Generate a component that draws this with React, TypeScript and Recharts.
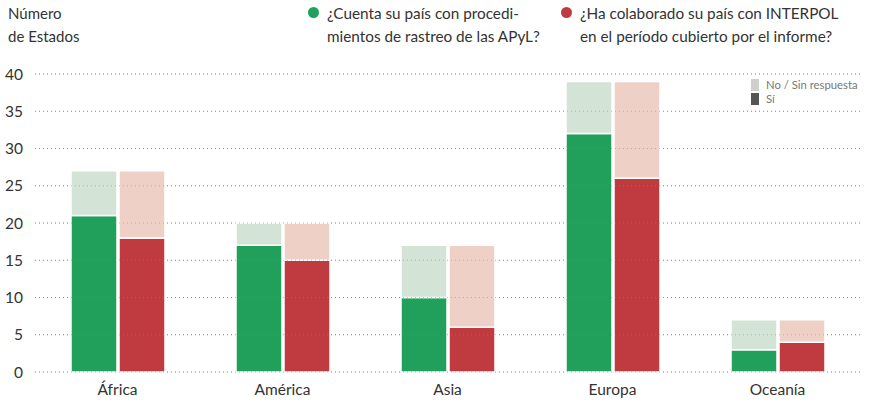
import { BarChart, Bar, XAxis, YAxis, CartesianGrid, ReferenceLine } from "recharts";

const regions = ["África", "América", "Asia", "Europa", "Oceanía"];
const rastreoSi = [21, 17, 10, 32, 3];
const rastreoNo = [6, 3, 7, 7, 4];
const interpolSi = [18, 15, 6, 26, 4];
const interpolNo = [9, 5, 11, 13, 3];
const yTicks = [0, 5, 10, 15, 20, 25, 30, 35, 40];

const GREEN = "#21a05b";
const GREEN_LIGHT = "#d3e4d7";
const RED = "#c03b40";
const RED_LIGHT = "#efd0c7";
const FONT = "Lato, 'Noto Sans', sans-serif";

const data = regions.map((name, i) => ({
  name,
  rastreoSi: rastreoSi[i],
  rastreoNo: rastreoNo[i],
  interpolSi: interpolSi[i],
  interpolNo: interpolNo[i],
}));

function LegendDot({ color }: { color: string }) {
  return (
    <span
      style={{
        display: "inline-block",
        width: 11,
        height: 11,
        borderRadius: "50%",
        background: color,
        marginTop: 5,
        marginRight: 8,
        flexShrink: 0,
      }}
    />
  );
}

export default function App() {
  return (
    <div
      style={{
        position: "absolute",
        left: 0,
        top: 0,
        width: 869,
        height: 404,
        fontFamily: FONT,
        color: "#333",
        background: "#fff",
      }}
    >
      <div style={{ position: "absolute", left: 8, top: 2, fontSize: 15, lineHeight: "23px" }}>
        Número
        <br />
        de Estados
      </div>
      <div style={{ position: "absolute", left: 308, top: 2, display: "flex", fontSize: 15.3, lineHeight: "23px" }}>
        <LegendDot color={GREEN} />
        <div>
          ¿Cuenta su país con procedi-
          <br />
          mientos de rastreo de las APyL?
        </div>
      </div>
      <div style={{ position: "absolute", left: 561, top: 2, display: "flex", fontSize: 15.3, lineHeight: "23px" }}>
        <LegendDot color={RED} />
        <div>
          ¿Ha colaborado su país con INTERPOL
          <br />
          en el período cubierto por el informe?
        </div>
      </div>
      <div style={{ position: "absolute", left: 751, top: 78, fontSize: 11.3, lineHeight: "14px", color: "#777" }}>
        <div style={{ display: "flex", alignItems: "center" }}>
          <span style={{ width: 8, height: 12, background: "#cfcfcf", marginRight: 7 }} />
          No / Sin respuesta
        </div>
        <div style={{ display: "flex", alignItems: "center" }}>
          <span style={{ width: 8, height: 12, background: "#555", marginRight: 7 }} />
          Sí
        </div>
      </div>
      <BarChart
        width={869}
        height={404}
        data={data}
        margin={{ top: 74, right: 9, bottom: 2, left: 0 }}
        barSize={46}
        barGap={2}
        style={{ position: "absolute", left: 0, top: 0 }}
      >
        <XAxis
          dataKey="name"
          axisLine={false}
          tickLine={false}
          height={30}
          tick={{ fill: "#333", fontSize: 15.5, fontFamily: FONT }}
          tickMargin={6}
        />
        <YAxis
          domain={[0, 40]}
          ticks={yTicks}
          width={35}
          axisLine={false}
          tickLine={false}
          tickMargin={6}
          tick={{ fill: "#333", fontSize: 15.5, fontFamily: FONT }}
        />
        <CartesianGrid vertical={false} stroke="#999" strokeDasharray="1 3" />
        <Bar dataKey="rastreoSi" stackId="g" fill={GREEN} stroke="#fff" strokeWidth={1.5} isAnimationActive={false} />
        <Bar dataKey="rastreoNo" stackId="g" fill={GREEN_LIGHT} stroke="#fff" strokeWidth={1.5} isAnimationActive={false} />
        <Bar dataKey="interpolSi" stackId="r" fill={RED} stroke="#fff" strokeWidth={1.5} isAnimationActive={false} />
        <Bar dataKey="interpolNo" stackId="r" fill={RED_LIGHT} stroke="#fff" strokeWidth={1.5} isAnimationActive={false} />
        {yTicks.map((t) => (
          <ReferenceLine key={t} y={t} stroke="#888" strokeOpacity={0.5} strokeDasharray="1 3" />
        ))}
      </BarChart>
    </div>
  );
}
